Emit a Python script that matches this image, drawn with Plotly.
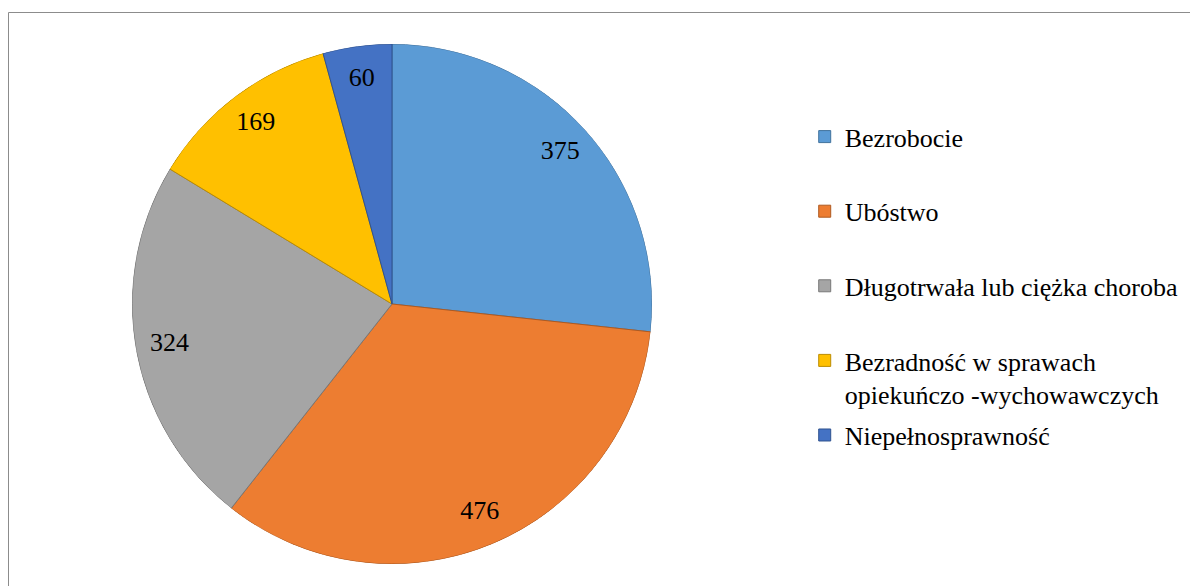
import numpy as np
import plotly.graph_objects as go

# Powody przyznania pomocy (liczba rodzin)
LABELS = [
    "Bezrobocie",
    "Ubóstwo",
    "Długotrwała lub ciężka choroba",
    "Bezradność w sprawach<br>opiekuńczo -wychowawczych",
    "Niepełnosprawność",
]
VALUES = [375, 476, 324, 169, 60]
COLORS = ["#5B9BD5", "#ED7D31", "#A5A5A5", "#FFC000", "#4472C4"]
EDGE_COLORS = ["#41719C", "#AE5A21", "#787878", "#BC8C00", "#2F528F"]

FONT = "Liberation Serif, Times New Roman, serif"
# page body has an 8px margin, so the figure is a bit smaller than the window
W, H = 1190, 578

# pie geometry in figure pixels -> paper fractions (margins are zero)
cx, cy, r = 384, 296, 260
dom_x = [(cx - r) / W, (cx + r) / W]
dom_y = [1 - (cy + r) / H, 1 - (cy - r) / H]

# slices as polar bars, clockwise from 12 o'clock
vals = np.array(VALUES, dtype=float)
widths = vals / vals.sum() * 360
mid_theta = np.cumsum(widths) - widths / 2

fig = go.Figure()

for i, lab in enumerate(LABELS):
    # single-line names get a blank second line so legend spacing is even
    name = lab if ("<br>" in lab or i == len(LABELS) - 1) else lab + "<br> "
    fig.add_trace(
        go.Barpolar(
            r=[1],
            theta=[mid_theta[i]],
            width=[widths[i]],
            name=name,
            legendgroup=f"g{i}",
            marker=dict(color=COLORS[i], line=dict(color=EDGE_COLORS[i], width=1)),
            hovertemplate=f"{lab}: {VALUES[i]}<extra></extra>",
        )
    )

# data labels near the rim, like Excel's "best fit"
fig.add_trace(
    go.Scatterpolar(
        r=[0.87] * len(VALUES),
        theta=mid_theta,
        mode="text",
        text=[str(v) for v in VALUES],
        textfont=dict(family=FONT, size=26, color="#000000"),
        showlegend=False,
        hoverinfo="skip",
    )
)

fig.update_layout(
    width=W,
    height=H,
    margin=dict(l=0, r=0, t=0, b=0),
    paper_bgcolor="white",
    plot_bgcolor="white",
    font=dict(family=FONT, color="#000000"),
    polar=dict(
        domain=dict(x=dom_x, y=dom_y),
        bgcolor="rgba(0,0,0,0)",
        bargap=0,
        hole=0,
        radialaxis=dict(range=[0, 1], visible=False),
        angularaxis=dict(rotation=90, direction="clockwise", visible=False),
    ),
    legend=dict(
        x=0.6695,
        y=0.818,
        xanchor="left",
        yanchor="top",
        valign="top",
        traceorder="grouped",
        tracegroupgap=4,
        font=dict(family=FONT, size=26, color="#000000"),
        bgcolor="rgba(0,0,0,0)",
    ),
    shapes=[
        dict(
            type="rect",
            xref="paper",
            yref="paper",
            x0=0.5 / W,
            x1=1.02,
            y0=-0.02,
            y1=1 - 4.5 / H,
            line=dict(color="#8C8C8C", width=1),
            fillcolor="rgba(0,0,0,0)",
        )
    ],
)

fig.write_html("out.html")
